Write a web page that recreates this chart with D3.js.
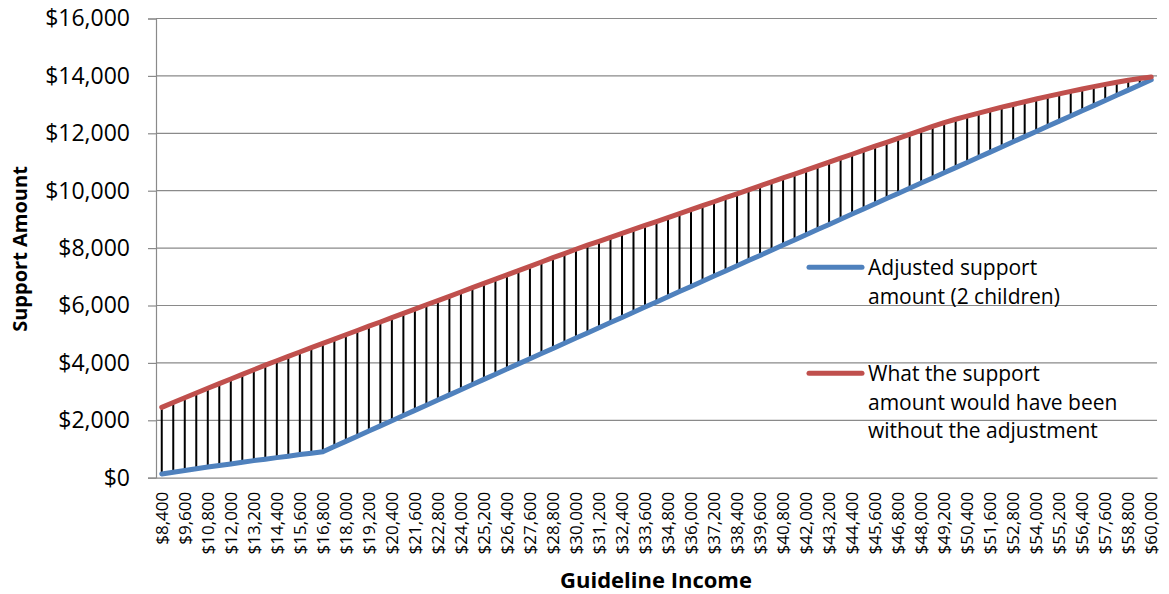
<!DOCTYPE html>
<html>
<head>
<meta charset="utf-8">
<script src="https://cdn.jsdelivr.net/npm/d3@7"></script>
<style>
  html, body { margin: 0; padding: 0; background: #fff; }
  svg { display: block; font-family: "Open Sans", "Noto Sans", sans-serif; }
</style>
</head>
<body>
<svg id="chart" width="1169" height="594"></svg>
<script>
// Guideline income steps ($600 apart)
const incomes = [
  8400, 9000, 9600, 10200, 10800, 11400, 12000, 12600, 13200, 13800,
  14400, 15000, 15600, 16200, 16800, 17400, 18000, 18600, 19200, 19800,
  20400, 21000, 21600, 22200, 22800, 23400, 24000, 24600, 25200, 25800,
  26400, 27000, 27600, 28200, 28800, 29400, 30000, 30600, 31200, 31800,
  32400, 33000, 33600, 34200, 34800, 35400, 36000, 36600, 37200, 37800,
  38400, 39000, 39600, 40200, 40800, 41400, 42000, 42600, 43200, 43800,
  44400, 45000, 45600, 46200, 46800, 47400, 48000, 48600, 49200, 49800,
  50400, 51000, 51600, 52200, 52800, 53400, 54000, 54600, 55200, 55800,
  56400, 57000, 57600, 58200, 58800, 59400, 60000
];

// Adjusted support amount (2 children)
const adjusted = [
  130, 190, 250, 310, 370, 425, 480, 540, 595, 645,
  700, 750, 805, 855, 905, 1085, 1265, 1445, 1625, 1805,
  1985, 2165, 2345, 2525, 2705, 2885, 3065, 3245, 3425, 3605,
  3785, 3965, 4145, 4325, 4505, 4685, 4865, 5045, 5225, 5405,
  5585, 5765, 5945, 6125, 6305, 6485, 6665, 6845, 7025, 7205,
  7385, 7565, 7745, 7925, 8105, 8285, 8465, 8645, 8825, 9005,
  9185, 9365, 9545, 9725, 9905, 10085, 10265, 10445, 10625, 10805,
  10985, 11165, 11345, 11525, 11705, 11885, 12065, 12245, 12425, 12605,
  12785, 12965, 13145, 13325, 13505, 13685, 13865
];

// Support amount without the adjustment
const unadjusted = [
  2450, 2620, 2785, 2950, 3115, 3280, 3440, 3600, 3760, 3920,
  4075, 4230, 4380, 4530, 4680, 4830, 4980, 5130, 5280, 5425,
  5575, 5725, 5875, 6025, 6170, 6320, 6470, 6620, 6770, 6920,
  7065, 7215, 7365, 7515, 7665, 7810, 7960, 8100, 8235, 8375,
  8510, 8650, 8790, 8925, 9065, 9200, 9340, 9480, 9615, 9755,
  9890, 10030, 10170, 10305, 10445, 10580, 10720, 10860, 10995, 11135,
  11270, 11410, 11550, 11685, 11825, 11960, 12100, 12240, 12375, 12490,
  12600, 12705, 12810, 12910, 13005, 13100, 13195, 13285, 13375, 13460,
  13545, 13625, 13705, 13780, 13850, 13910, 13960
];

// Labelled incomes on the category axis (every other step)
const incomeTicks = incomes.filter((d, i) => i % 2 === 0);
const yTicks = [0, 2000, 4000, 6000, 8000, 10000, 12000, 14000, 16000];

const seriesNames = [
  ["Adjusted support", "amount (2 children)"],
  ["What the support", "amount would have been", "without the adjustment"]
];
const seriesColors = ["#4F81BD", "#C0504D"];

const svg = d3.select("#chart");
const plot = { left: 156, right: 1157, top: 18.5, bottom: 477.7 };

const x = d3.scaleBand()
  .domain(incomes)
  .range([plot.left, plot.right])
  .paddingInner(0).paddingOuter(0);
const cx = d => x(d) + x.bandwidth() / 2;

const y = d3.scaleLinear()
  .domain([0, 16000])
  .range([plot.bottom, plot.top]);

const money = d => "$" + d3.format(",")(d);
const gridColor = "#8a8a8a";

// Horizontal gridlines
svg.append("g")
  .selectAll("line")
  .data(yTicks.filter(d => d > 0))
  .join("line")
  .attr("x1", plot.left).attr("x2", plot.right)
  .attr("y1", d => y(d)).attr("y2", d => y(d))
  .attr("stroke", gridColor).attr("stroke-width", 1.2);

// Value axis
const yAxis = svg.append("g")
  .attr("transform", `translate(${plot.left},0)`)
  .call(d3.axisLeft(y).tickValues(yTicks).tickFormat(money).tickSize(8).tickPadding(18));
yAxis.select(".domain").attr("stroke", gridColor).attr("stroke-width", 1.2);
yAxis.selectAll(".tick line").attr("stroke", gridColor).attr("stroke-width", 1.2);
yAxis.selectAll(".tick text")
  .attr("fill", "#000")
  .style("font-size", "23px")
  .style("font-family", "'Open Sans', sans-serif");

// Category axis
const xAxis = svg.append("g")
  .attr("transform", `translate(0,${plot.bottom})`)
  .call(d3.axisBottom(x).tickValues(incomeTicks).tickFormat(money).tickSize(0));
xAxis.select(".domain").attr("stroke", gridColor).attr("stroke-width", 1.2);
xAxis.selectAll(".tick text")
  .attr("fill", "#000")
  .attr("transform", "rotate(-90)")
  .attr("x", -14)
  .attr("y", 0)
  .attr("dy", "0.36em")
  .style("text-anchor", "end")
  .style("font-size", "17px")
  .style("font-family", "'Open Sans', sans-serif");

// High-low lines linking the two series at each income
svg.append("g")
  .selectAll("line")
  .data(incomes)
  .join("line")
  .attr("x1", d => cx(d)).attr("x2", d => cx(d))
  .attr("y1", (d, i) => y(unadjusted[i]))
  .attr("y2", (d, i) => y(adjusted[i]))
  .attr("stroke", "#000").attr("stroke-width", 2);

// Series lines
const line = d3.line()
  .x((d, i) => cx(incomes[i]))
  .y(d => y(d));

[adjusted, unadjusted].forEach((vals, k) => {
  svg.append("path")
    .datum(vals)
    .attr("d", line)
    .attr("fill", "none")
    .attr("stroke", seriesColors[k])
    .attr("stroke-width", 5)
    .attr("stroke-linejoin", "round")
    .attr("stroke-linecap", "round");
});

// Legend
const legendRows = [267.3, 373.3];
seriesNames.forEach((lines, k) => {
  const g = svg.append("g");
  g.append("line")
    .attr("x1", 809).attr("x2", 862)
    .attr("y1", legendRows[k]).attr("y2", legendRows[k])
    .attr("stroke", seriesColors[k]).attr("stroke-width", 5)
    .attr("stroke-linecap", "round");
  g.append("text")
    .attr("x", 868)
    .attr("y", legendRows[k] + 8)
    .style("font-size", "21px")
    .selectAll("tspan")
    .data(lines)
    .join("tspan")
    .attr("x", 868)
    .attr("dy", (d, i) => i === 0 ? 0 : 28.5)
    .text(d => d);
});

// Axis titles
svg.append("text")
  .attr("transform", `translate(27,249) rotate(-90)`)
  .attr("text-anchor", "middle")
  .style("font-size", "20px")
  .style("font-weight", "bold")
  .text("Support Amount");

svg.append("text")
  .attr("x", 656)
  .attr("y", 588)
  .attr("text-anchor", "middle")
  .style("font-size", "22px")
  .style("font-weight", "bold")
  .text("Guideline Income");
</script>
</body>
</html>
